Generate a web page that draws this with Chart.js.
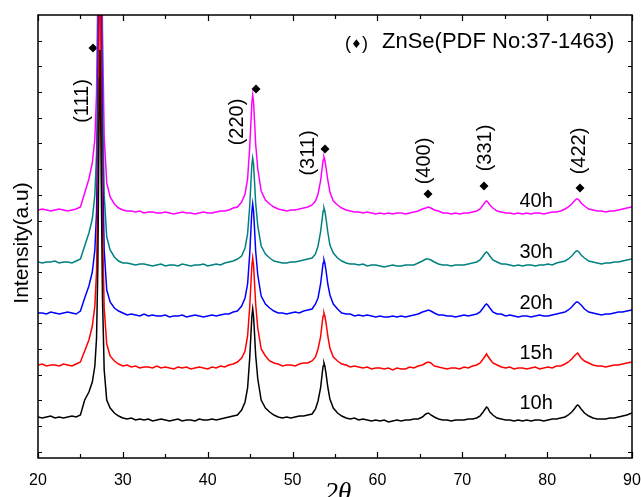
<!DOCTYPE html>
<html>
<head>
<meta charset="utf-8">
<title>ZnSe XRD</title>
<script src="https://cdn.jsdelivr.net/npm/chart.js@4.4.0/dist/chart.umd.min.js"></script>
<style>
  html, body { margin: 0; padding: 0; background: #fff; }
  #xrd { display: block; }
</style>
</head>
<body>
<canvas id="xrd" width="641" height="497"></canvas>
<script>
// 2theta grid (denser around the reflections)
const twoTheta = [
  20, 20.5, 21, 21.5, 22, 22.5, 23, 23.5, 24, 24.5,
  25, 25.5, 26, 26.4, 26.7, 26.9, 27.05, 27.15, 27.25, 27.3, 27.35, 27.45, 27.6, 27.8, 28.1, 28.5, 29, 29.5,
  30, 30.5, 31, 31.5, 32, 32.5, 33, 33.5, 34, 34.5, 35, 35.5, 36, 36.5, 37, 37.5, 38, 38.5, 39, 39.5, 40, 40.5, 41, 41.5, 42, 42.5, 43,
  43.5, 44, 44.4, 44.7, 44.95, 45.1, 45.2, 45.3, 45.4, 45.5, 45.65, 45.9, 46.3, 46.8, 47.3, 47.8,
  48.3, 48.8, 49.3, 49.8, 50.3, 50.8, 51.3, 51.8,
  52.3, 52.7, 53.0, 53.3, 53.5, 53.6, 53.7, 53.8, 53.95, 54.15, 54.4, 54.8, 55.3, 55.8,
  56.3, 56.8, 57.3, 57.8, 58.3, 58.8, 59.3, 59.8, 60.3, 60.8, 61.3, 61.8, 62.3, 62.8, 63.3, 63.8,
  64.3, 64.8, 65.3, 65.7, 66.0, 66.3, 66.7, 67.2, 67.7,
  68.2, 68.7, 69.2, 69.7, 70.2, 70.7, 71.2,
  71.7, 72.1, 72.45, 72.7, 72.85, 73.0, 73.25, 73.6, 74.1,
  74.6, 75.1, 75.6, 76.1, 76.6, 77.1, 77.6, 78.1, 78.6, 79.1, 79.6, 80.1, 80.6, 81.1, 81.6, 82.1,
  82.5, 82.9, 83.2, 83.45, 83.6, 83.75, 84.0, 84.4, 84.9,
  85.4, 85.9, 86.4, 86.9, 87.4, 87.9, 88.4, 88.9, 89.4, 90
];

// intensities (a.u.), same grid as twoTheta
const int10h = [
  41, 40, 41, 42, 40, 41, 40, 41, 42, 41,
  43, 58, 66, 76, 92, 120, 190, 290, 380, 408, 385, 280, 160, 88, 58, 50, 45, 42,
  40, 39, 40, 38, 39, 38, 39, 37, 38, 39, 38, 37, 38, 39, 37, 38, 38, 37, 39, 38, 38, 39, 38, 39, 40, 41, 42,
  43, 48, 56, 70, 100, 125, 141, 149, 142, 127, 103, 79, 58, 50, 46, 43,
  41, 40, 41, 40, 41, 42, 42, 43,
  44, 49, 57, 70, 85, 92, 95, 92, 84, 71, 59, 50, 45, 42,
  40, 39, 40, 38, 39, 38, 37, 38, 37, 38, 36, 37, 38, 37, 38, 38,
  39, 39, 41, 44, 45, 43, 41, 39, 38,
  38, 37, 38, 38, 38, 39, 39,
  40, 42, 46, 49, 51, 50, 46, 43, 40,
  39, 38, 38, 37, 38, 37, 38, 37, 38, 38, 37, 38, 39, 39, 40, 41,
  43, 46, 49, 52, 53, 52, 49, 45, 42,
  40, 39, 39, 39, 40, 40, 41, 42, 43, 45
];
const int15h = [
  41, 42, 40, 41, 41, 40, 42, 41, 40, 42,
  44, 55, 66, 80, 100, 135, 215, 330, 430, 460, 430, 315, 180, 98, 62, 50, 45, 42,
  40, 41, 39, 40, 38, 39, 39, 38, 40, 38, 39, 38, 37, 39, 38, 39, 37, 38, 39, 38, 37, 39, 38, 40, 39, 41, 42,
  44, 48, 55, 70, 99, 124, 140, 148, 141, 126, 102, 78, 57, 50, 45, 43,
  42, 40, 41, 41, 40, 42, 43, 43,
  45, 49, 57, 69, 84, 90, 93, 90, 83, 70, 58, 49, 45, 42,
  41, 39, 40, 39, 38, 39, 37, 38, 38, 37, 38, 36, 38, 37, 37, 39,
  38, 40, 41, 43, 44, 43, 40, 39, 38,
  37, 38, 38, 37, 39, 38, 40,
  41, 43, 47, 50, 52, 50, 47, 43, 41,
  39, 38, 39, 37, 38, 38, 37, 38, 39, 37, 38, 39, 38, 40, 40, 42,
  44, 47, 50, 52, 53, 51, 48, 45, 43,
  41, 40, 40, 39, 40, 41, 41, 42, 43, 44
];
const int20h = [
  41, 41, 40, 42, 41, 40, 41, 42, 41, 40,
  43, 56, 68, 82, 104, 142, 230, 350, 460, 495, 460, 340, 195, 104, 64, 52, 46, 43,
  41, 39, 40, 39, 38, 40, 38, 39, 38, 38, 39, 37, 38, 38, 39, 37, 38, 39, 38, 37, 38, 39, 38, 39, 40, 40, 42,
  43, 48, 56, 70, 100, 126, 142, 150, 143, 128, 103, 79, 58, 50, 46, 43,
  41, 41, 40, 41, 42, 41, 43, 44,
  45, 50, 56, 70, 84, 91, 94, 91, 83, 70, 59, 50, 45, 41,
  40, 40, 38, 39, 38, 39, 38, 37, 38, 37, 37, 38, 37, 38, 37, 38,
  39, 40, 42, 43, 44, 43, 41, 39, 39,
  38, 38, 37, 38, 39, 38, 39,
  40, 42, 46, 49, 50, 49, 46, 42, 40,
  40, 38, 39, 38, 37, 38, 38, 37, 38, 39, 38, 38, 39, 40, 41, 42,
  44, 47, 50, 52, 52, 51, 49, 45, 42,
  41, 40, 39, 40, 40, 41, 42, 42, 43, 44
];
const int30h = [
  41, 40, 41, 41, 42, 40, 41, 41, 40, 42,
  44, 57, 70, 84, 108, 150, 245, 375, 490, 530, 490, 360, 205, 108, 66, 53, 46, 42,
  40, 40, 39, 38, 39, 39, 38, 37, 38, 39, 37, 38, 38, 37, 39, 38, 37, 38, 38, 39, 37, 38, 39, 38, 40, 41, 42,
  44, 47, 55, 69, 97, 122, 138, 145, 139, 124, 100, 77, 57, 49, 45, 42,
  41, 40, 40, 41, 41, 42, 43, 44,
  45, 49, 57, 71, 85, 92, 95, 92, 84, 71, 58, 50, 45, 42,
  40, 39, 39, 38, 39, 37, 38, 38, 37, 36, 37, 38, 37, 37, 38, 38,
  38, 40, 42, 44, 44, 43, 41, 39, 38,
  38, 37, 38, 38, 38, 39, 40,
  41, 43, 47, 50, 51, 50, 47, 43, 41,
  39, 39, 38, 37, 38, 37, 38, 38, 37, 38, 38, 39, 38, 40, 41, 42,
  44, 47, 50, 52, 52, 51, 48, 45, 42,
  41, 40, 39, 40, 40, 41, 41, 42, 43, 44
];
const int40h = [
  41, 42, 41, 40, 41, 42, 41, 40, 41, 42,
  44, 58, 72, 88, 112, 158, 260, 395, 520, 560, 520, 385, 220, 114, 68, 54, 47, 43,
  41, 40, 40, 39, 40, 38, 39, 39, 38, 38, 39, 38, 37, 38, 39, 38, 38, 37, 38, 39, 38, 38, 39, 40, 40, 41, 43,
  44, 49, 57, 72, 104, 130, 148, 156, 149, 133, 107, 82, 60, 51, 47, 44,
  42, 41, 40, 41, 41, 42, 43, 44,
  46, 50, 57, 70, 84, 91, 94, 91, 83, 71, 59, 50, 46, 43,
  41, 40, 39, 39, 38, 39, 38, 37, 38, 37, 38, 37, 38, 38, 37, 38,
  39, 40, 42, 43, 44, 43, 41, 40, 38,
  38, 37, 38, 37, 38, 38, 39,
  40, 42, 46, 49, 50, 49, 46, 43, 40,
  39, 38, 38, 37, 38, 37, 38, 37, 38, 38, 37, 38, 39, 39, 40, 42,
  44, 47, 50, 52, 52, 51, 48, 45, 42,
  41, 40, 40, 39, 40, 40, 41, 42, 43, 44
];

const millTime = ["10h", "15h", "20h", "30h", "40h"];
const colours = ["#000000", "#ff0000", "#0000ff", "#008080", "#ff00ff"];
const offsets = [0, 52, 104, 155, 207];
const patterns = [int10h, int15h, int20h, int30h, int40h];

// ZnSe reflections: diamond markers and hkl labels
const hkl = ["(111)", "(220)", "(311)", "(400)", "(331)", "(422)"];
const markTheta = [26.48, 45.69, 53.82, 65.96, 72.56, 83.87];
const markLevel = [410, 369, 309, 264, 272, 270];
const hklTheta = [25.3, 43.45, 51.82, 65.6, 72.68, 83.87];
const hklLevel = [357, 336, 305, 297, 310, 307];

// where the milling-time labels sit
const labelTheta = 78.7;
const labelLevel = [55, 105, 155, 206, 257];

const xTicks = [20, 30, 40, 50, 60, 70, 80, 90];
const yMax = 443;
const yStep = 25.7;

const datasets = patterns.map((vals, i) => ({
  label: millTime[i],
  data: twoTheta.map((t, k) => ({ x: t, y: vals[k] + offsets[i] })),
  borderColor: colours[i],
  borderWidth: 1.5,
  pointRadius: 0,
  tension: 0,
  clip: 0
}));

datasets.push({
  label: "ZnSe",
  data: markTheta.map((t, k) => ({ x: t, y: markLevel[k] })),
  showLine: false,
  pointStyle: "rectRot",
  pointRadius: 4.5,
  pointBackgroundColor: "#000",
  pointBorderWidth: 0
});

const frame = {
  id: "frame",
  afterDraw(chart) {
    const { ctx, chartArea: a } = chart;
    const x = chart.scales.x, y = chart.scales.y;
    ctx.save();

    // box
    ctx.strokeStyle = "#000";
    ctx.lineWidth = 1.5;
    ctx.strokeRect(a.left, a.top, a.right - a.left, a.bottom - a.top);

    // inward ticks
    ctx.lineWidth = 1.2;
    ctx.beginPath();
    for (let v = 20; v <= 90; v += 5) {
      const px = Math.round(x.getPixelForValue(v)) + 0.5;
      const len = v % 10 === 0 ? 6 : 4;
      ctx.moveTo(px, a.bottom); ctx.lineTo(px, a.bottom - len);
      ctx.moveTo(px, a.top); ctx.lineTo(px, a.top + len);
    }
    for (let v = yMax - yStep; v > 0; v -= yStep) {
      const py = Math.round(y.getPixelForValue(v)) + 0.5;
      ctx.moveTo(a.left, py); ctx.lineTo(a.left + 4, py);
      ctx.moveTo(a.right, py); ctx.lineTo(a.right - 4, py);
    }
    ctx.stroke();

    ctx.fillStyle = "#000";
    // x tick labels
    ctx.font = "16px 'Liberation Sans', Arial, sans-serif";
    ctx.textAlign = "center";
    ctx.textBaseline = "middle";
    xTicks.forEach(v => ctx.fillText(String(v), x.getPixelForValue(v), 481));

    // x title
    ctx.font = "italic 27px 'Liberation Serif', 'Times New Roman', serif";
    ctx.textBaseline = "alphabetic";
    ctx.fillText("2θ", 338, 501);

    // y title
    ctx.save();
    ctx.translate(22, 243);
    ctx.rotate(-Math.PI / 2);
    ctx.font = "21px 'Liberation Sans', Arial, sans-serif";
    ctx.textBaseline = "middle";
    ctx.fillText("Intensity(a.u)", 0, 0);
    ctx.restore();

    // hkl labels
    ctx.font = "20px 'Liberation Sans', Arial, sans-serif";
    hkl.forEach((h, k) => {
      ctx.save();
      ctx.translate(x.getPixelForValue(hklTheta[k]), y.getPixelForValue(hklLevel[k]));
      ctx.rotate(-Math.PI / 2);
      ctx.textAlign = "center";
      ctx.textBaseline = "middle";
      ctx.fillText(h, 0, 0);
      ctx.restore();
    });

    // milling time labels
    ctx.font = "20px 'Liberation Sans', Arial, sans-serif";
    ctx.textAlign = "center";
    ctx.textBaseline = "middle";
    millTime.forEach((m, i) => {
      ctx.fillText(m, x.getPixelForValue(labelTheta), y.getPixelForValue(labelLevel[i]));
    });

    // legend line
    ctx.textAlign = "left";
    ctx.textBaseline = "alphabetic";
    ctx.font = "18px 'Liberation Sans', Arial, sans-serif";
    ctx.fillText("(", 345, 49);
    ctx.fillText(")", 362, 49);
    ctx.font = "12px 'DejaVu Sans', sans-serif";
    ctx.fillText("♦", 351, 48);
    ctx.font = "22px 'Liberation Sans', Arial, sans-serif";
    ctx.fillText("ZnSe(PDF No:37-1463)", 382, 48);

    ctx.restore();
  }
};

new Chart(document.getElementById("xrd"), {
  type: "line",
  data: { datasets },
  options: {
    responsive: false,
    devicePixelRatio: 1,
    animation: false,
    layout: { padding: { left: 38, top: 15, right: 9, bottom: 39 } },
    plugins: { legend: { display: false }, tooltip: { enabled: false } },
    scales: {
      x: { type: "linear", min: 20, max: 90, display: false },
      y: { type: "linear", min: 0, max: yMax, display: false }
    }
  },
  plugins: [frame]
});
</script>
</body>
</html>
